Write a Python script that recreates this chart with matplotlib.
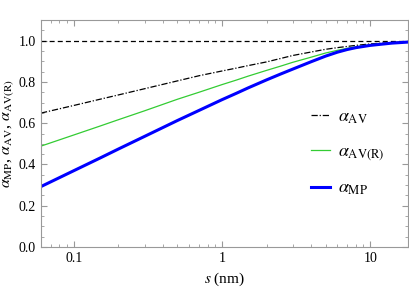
import matplotlib
matplotlib.use("Agg")
import matplotlib.pyplot as plt
from matplotlib.ticker import FixedLocator, MultipleLocator, LogLocator, NullFormatter

plt.rcParams['font.family'] = ['Liberation Serif', 'DejaVu Serif']
plt.rcParams['mathtext.fontset'] = 'stix'

s_nm = [0.06, 0.1, 0.15, 0.2, 0.3, 0.5, 0.7, 1, 1.25, 1.5, 2, 2.5, 3, 4, 5, 6, 7, 8, 10, 12, 14, 18]
alpha_av = [0.649, 0.686, 0.716, 0.737, 0.767, 0.805, 0.830, 0.853, 0.867, 0.879, 0.897, 0.914, 0.928, 0.945, 0.958, 0.966, 0.972, 0.977, 0.984, 0.988, 0.991, 0.995]
alpha_avr = [0.489, 0.543, 0.586, 0.617, 0.660, 0.716, 0.750, 0.787, 0.809, 0.828, 0.856, 0.877, 0.895, 0.920, 0.940, 0.953, 0.963, 0.970, 0.980, 0.985, 0.989, 0.993]
alpha_mp = [0.293, 0.370, 0.431, 0.475, 0.536, 0.613, 0.662, 0.714, 0.745, 0.771, 0.810, 0.839, 0.862, 0.898, 0.925, 0.944, 0.957, 0.966, 0.977, 0.983, 0.988, 0.993]
ref_level = 1.0

xticks = [0.1, 1, 10]
xticklabels = ['0.1', '1', '10']
yticks = [0.0, 0.2, 0.4, 0.6, 0.8, 1.0]
yticklabels = ['0.0', '0.2', '0.4', '0.6', '0.8', '1.0']

fig = plt.figure(figsize=(4.09, 2.92), dpi=100)
ax = fig.add_axes([0.1002, 0.154, 0.8974, 0.7775])

ax.axhline(ref_level, color='black', lw=0.9, ls=(0, (4, 2.5)))
ax.plot(s_nm, alpha_av, color='black', lw=0.9, ls=(0, (5, 1.5, 1, 1.5)), label=r'$\alpha_{\rm AV}$')
ax.plot(s_nm, alpha_avr, color='#33cc33', lw=0.9, label=r'$\alpha_{\rm AV(R)}$')
ax.plot(s_nm, alpha_mp, color='#0000ff', lw=2.2, label=r'$\alpha_{\rm MP}$')

ax.set_xscale('log')
ax.set_xlim(0.06, 18)
ax.set_ylim(0, 1.1)
ax.xaxis.set_major_locator(FixedLocator(xticks))
ax.set_xticklabels(xticklabels)
ax.xaxis.set_minor_locator(LogLocator(base=10, subs=range(2, 10)))
ax.xaxis.set_minor_formatter(NullFormatter())
ax.yaxis.set_major_locator(FixedLocator(yticks))
ax.set_yticklabels(yticklabels)
ax.yaxis.set_minor_locator(MultipleLocator(0.05))

for sp in ax.spines.values():
    sp.set_color('#999999')
    sp.set_linewidth(0.8)
ax.tick_params(which='both', direction='in', top=True, right=True, color='#999999', labelsize=10)
ax.tick_params(which='major', length=4, width=0.8)
ax.tick_params(which='minor', length=2, width=0.6)

ax.set_xlabel(r'$s$ (nm)', fontsize=11, labelpad=4)
ax.set_ylabel(r'$\alpha_{\rm MP}$, $\alpha_{\rm AV}$, $\alpha_{\rm AV(R)}$', fontsize=11.5, labelpad=2)

ax.legend(loc='center left', bbox_to_anchor=(0.71, 0.415), frameon=False, fontsize=13,
          handlelength=1.1, handletextpad=0.4, labelspacing=0.95, borderpad=0)

fig.savefig('out.png', dpi=100)
